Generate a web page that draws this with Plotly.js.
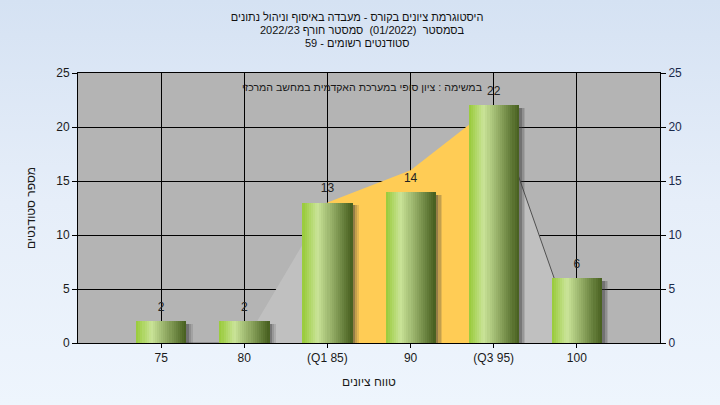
<!DOCTYPE html>
<html>
<head>
<meta charset="utf-8">
<script src="https://cdn.plot.ly/plotly-3.0.1.min.js"></script>
<style>
html,body{margin:0;padding:0;}
body{width:720px;height:405px;background:linear-gradient(to bottom,#d5e2f3 0%,#e6eef9 50%,#eef5fd 100%);overflow:hidden;}
#chart{width:720px;height:405px;}
</style>
</head>
<body>
<div id="chart"></div>
<script>
// ---- data ----
const categories = ['75', '80', '(Q1 85)', '90', '(Q3 95)', '100'];
const counts = [2, 2, 13, 14, 22, 6];
// background distribution area (outside quartiles = gray, inside = yellow)
const areaLowX = ['75', '80', '(Q1 85)'];
const areaLowY = [0, 0, 13];
const areaMidX = ['(Q1 85)', '90', '(Q3 95)'];
const areaMidY = [13, 16, 22];
const areaHighX = ['(Q3 95)', '100'];
const areaHighY = [22, 0];
const yTicks = [0, 5, 10, 15, 20, 25];

const titleLine1 = 'היסטוגרמת ציונים בקורס - מעבדה באיסוף וניהול נתונים';
const titleLine2 = 'בסמסטר  (01/2022)  סמסטר חורף 2022/23';
const titleLine3 = 'סטודנטים רשומים - 59';
const subTitle = 'במשימה : ציון סופי במערכת האקדמית במחשב המרכזי';
const xTitle = 'טווח ציונים';
const yTitle = 'מספר סטודנטים';

// ---- styling ----
const FONT = 'Liberation Sans, Arial, sans-serif';
const barWidth = 0.6;
const nStrips = 24;
function lerp(a, b, t) { return a + (b - a) * t; }
function gradColor(t) {
  const stops = [[0, [152, 202, 56]], [0.3, [202, 228, 152]], [1, [70, 94, 30]]];
  for (let i = 0; i < stops.length - 1; i++) {
    const [t0, c0] = stops[i], [t1, c1] = stops[i + 1];
    if (t >= t0 && t <= t1) {
      const u = (t - t0) / (t1 - t0);
      return 'rgb(' + c0.map((v, k) => Math.round(lerp(v, c1[k], u))).join(',') + ')';
    }
  }
  return 'rgb(70,94,30)';
}

const traces = [];
// areas (base subplot, drawn below the overlaying bar subplot)
traces.push({x: areaLowX, y: areaLowY, type: 'scatter', mode: 'lines', fill: 'tozeroy',
  fillcolor: '#c0c0c0', line: {width: 0}, hoverinfo: 'skip', showlegend: false});
traces.push({x: areaHighX, y: areaHighY, type: 'scatter', mode: 'lines', fill: 'tozeroy',
  fillcolor: '#c0c0c0', line: {width: 1, color: '#505050'}, hoverinfo: 'skip', showlegend: false});
traces.push({x: areaMidX, y: areaMidY, type: 'scatter', mode: 'lines', fill: 'tozeroy',
  fillcolor: '#ffcc55', line: {width: 0}, hoverinfo: 'skip', showlegend: false});
traces.push({x: areaLowX.slice(0, 2), y: areaLowY.slice(0, 2), type: 'scatter', mode: 'lines',
  line: {width: 1, color: '#707070'}, hoverinfo: 'skip', showlegend: false});

// shadows
const shadowSteps = [[0.000, 0.035, 'rgba(60,60,60,0.55)'], [0.035, 0.025, 'rgba(60,60,60,0.30)'], [0.060, 0.02, 'rgba(60,60,60,0.15)']];
shadowSteps.forEach(([off, w, c]) => {
  traces.push({x: categories, y: counts.map(v => Math.max(v - 0.25, 0)), type: 'bar', yaxis: 'y2',
    width: w, offset: barWidth / 2 + off, marker: {color: c, line: {width: 0}},
    hoverinfo: 'skip', showlegend: false});
});

// gradient bar strips
for (let i = 0; i < nStrips; i++) {
  const w = barWidth / nStrips;
  traces.push({x: categories, y: counts, type: 'bar', yaxis: 'y2',
    width: w + 0.004, offset: -barWidth / 2 + i * w,
    marker: {color: gradColor((i + 0.5) / nStrips), line: {width: 0}},
    hoverinfo: 'skip', showlegend: false});
}

// value labels
traces.push({x: categories, y: counts, type: 'scatter', mode: 'markers+text', yaxis: 'y2',
  marker: {size: 10, opacity: 0},
  text: counts.map(String), textposition: 'top center',
  textfont: {family: FONT, size: 12, color: '#222222'}, hoverinfo: 'skip', showlegend: false});

const layout = {
  width: 720, height: 405,
  paper_bgcolor: 'rgba(0,0,0,0)', plot_bgcolor: '#b4b4b4',
  margin: {l: 78, r: 60, t: 73, b: 62},
  barmode: 'overlay', bargap: 0,
  showlegend: false,
  font: {family: FONT, size: 12, color: '#1a1a1a'},
  title: {text: titleLine1, x: 0.496, xanchor: 'center', y: 1 - 17 / 405, yanchor: 'middle',
    font: {family: FONT, size: 11, color: '#111111'}},
  xaxis: {type: 'category', categoryarray: categories, categoryorder: 'array',
    range: [-1, 6], showgrid: true, gridcolor: '#000000', gridwidth: 1,
    showline: true, linecolor: '#000000', linewidth: 1, mirror: true,
    ticks: 'outside', ticklen: 4, tickcolor: '#000000',
    tickfont: {family: FONT, size: 12, color: '#1a1a1a'},
    title: {text: xTitle, font: {family: FONT, size: 12, color: '#1a1a1a'}, standoff: 13},
    fixedrange: true, zeroline: false},
  yaxis: {range: [0, 25], tickvals: yTicks, showgrid: true, gridcolor: '#000000', gridwidth: 1,
    showline: true, linecolor: '#000000', linewidth: 1, mirror: true,
    ticks: 'outside', ticklen: 5, tickcolor: '#000000',
    tickfont: {family: FONT, size: 12, color: '#1a1a1a'},
    title: {text: yTitle, font: {family: FONT, size: 12, color: '#1a1a1a'}, standoff: 18},
    zeroline: false, fixedrange: true},
  yaxis2: {range: [0, 25], tickvals: yTicks, overlaying: 'y', side: 'right',
    showgrid: false, showline: false, ticks: 'outside', ticklen: 5, tickcolor: '#000000',
    tickfont: {family: FONT, size: 12, color: '#1a2a4a'}, zeroline: false, fixedrange: true},
  annotations: [
    {text: titleLine2, xref: 'paper', yref: 'paper', x: 0.488, y: (343 - 30) / 270, yanchor: 'middle',
      showarrow: false, font: {family: FONT, size: 11, color: '#111111'}},
    {text: titleLine3, xref: 'paper', yref: 'paper', x: 0.48, y: (343 - 43) / 270, yanchor: 'middle',
      showarrow: false, font: {family: FONT, size: 11, color: '#111111'}},
    {text: subTitle, xref: 'paper', yref: 'paper', x: 0.488, y: (343 - 87) / 270, yanchor: 'middle',
      showarrow: false, font: {family: FONT, size: 10.6, color: '#1a1a1a'}}
  ]
};

Plotly.newPlot('chart', traces, layout, {displayModeBar: false, staticPlot: true});
</script>
</body>
</html>
